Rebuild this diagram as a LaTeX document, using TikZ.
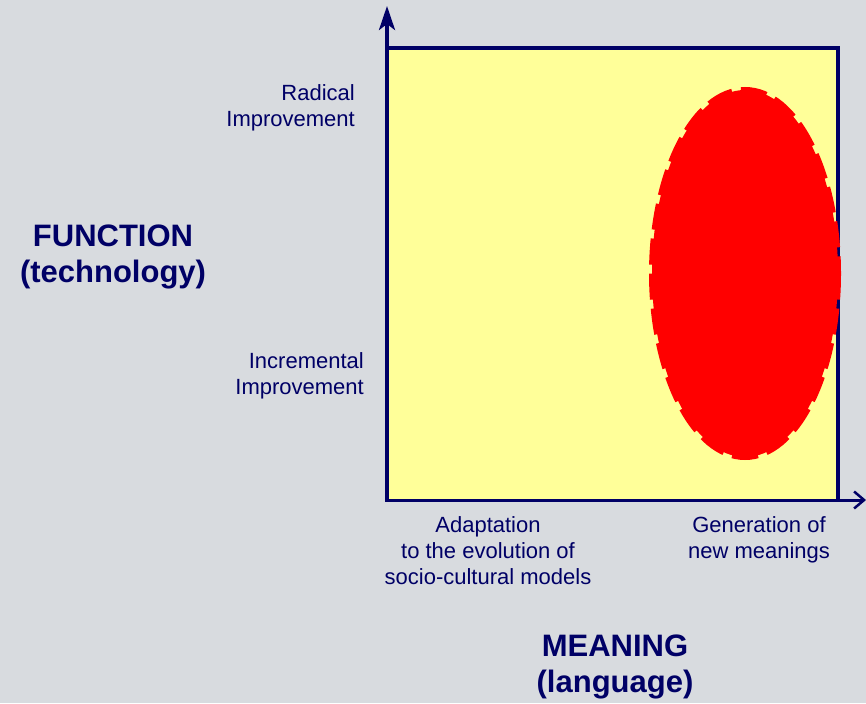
\documentclass[tikz,border=0pt]{standalone}
\usepackage{fontspec}
\setmainfont{Liberation Sans}
\usetikzlibrary{arrows.meta}
\definecolor{navy}{RGB}{0,0,102}
\definecolor{paper}{RGB}{216,219,223}
\definecolor{pale}{RGB}{255,255,153}

\begin{document}
\begin{tikzpicture}[x=1pt,y=-1pt,
    lbl/.style={text=navy,inner sep=0pt,font=\fontsize{22}{26}\selectfont},
    heading/.style={text=navy,inner sep=0pt,align=center,font=\fontsize{31}{36}\selectfont\bfseries},
    axis/.style={navy,line width=3.5pt}]
  \fill[paper] (0,0) rectangle (866,703);
  \useasboundingbox (0,0) rectangle (866,703);
  % field
  \fill[pale] (387,48) rectangle (838,500);
  \draw[navy,line width=4pt] (387,48) -- (838,48) -- (838,500);
  % region of new meanings
  \fill[red] (745,273.5) ellipse [x radius=93,y radius=183.5];
  \draw[red,line width=6pt,dash pattern=on 26pt off 9pt] (745,273.5) ellipse [x radius=93,y radius=183.5];
  % axes
  \coordinate (origin) at (387,500);
  \coordinate (ytop) at (387,6);
  \coordinate (xend) at (866,500);
  \draw[axis,-{Stealth[length=24pt,width=16pt,inset=6pt]}] (origin) -- (ytop);
  \draw[axis,line width=3pt,-{Straight Barb[length=10pt,width=17pt,line width=2.5pt]}] ([xshift=-2pt]origin) -- (xend);
  % vertical labels
  \node[heading] (function) at (113,257) {FUNCTION\\(technology)};
  \node[lbl,align=right,anchor=east] (radical) at (355,108) {Radical\\Improvement};
  \node[lbl,align=right,anchor=east] (incremental) at (364,376) {Incremental\\Improvement};
  % horizontal labels
  \node[lbl,align=center] (adaptation) at (488,551) {Adaptation\\to the evolution of\\socio-cultural models};
  \node[lbl,align=center] (generation) at (759,540) {Generation of\\new meanings};
  \node[heading] (meaning) at (615,667) {MEANING\\(language)};
\end{tikzpicture}
\end{document}
